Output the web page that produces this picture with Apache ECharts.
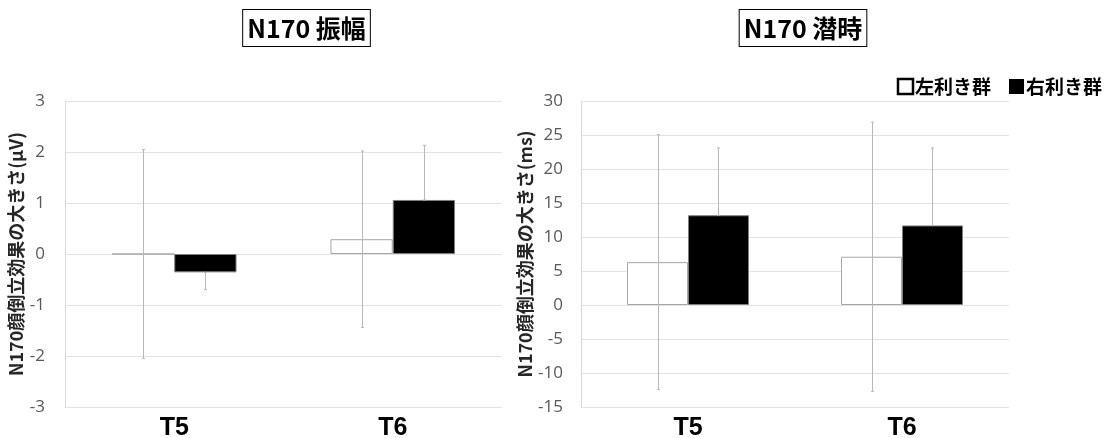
<!DOCTYPE html>
<html>
<head>
<meta charset="utf-8">
<script src="https://cdn.jsdelivr.net/npm/echarts@6/dist/echarts.min.js"></script>
<style>html,body{margin:0;padding:0;background:#fff}#c{width:1115px;height:438px}</style>
</head>
<body>
<div id="c"></div>
<script>
// ---- data ----
var categories = ['T5', 'T6'];
var seriesNames = ['左利き群', '右利き群'];
// N170 amplitude (μV)
var ampLeft = [0.0, 0.29];
var ampLeftErr = [2.05, 1.73];
var ampRight = [-0.36, 1.06];
var ampRightErr = [0.34, 1.07];
// N170 latency (ms)
var latLeft = [6.3, 7.1];
var latLeftErr = [18.75, 19.8];
var latRight = [13.2, 11.7];
var latRightErr = [9.9, 11.4];
var titles = ['N170 振幅', 'N170 潜時'];
var yNames = ['N170顔倒立効果の大きさ(μV)', 'N170顔倒立効果の大きさ(ms)'];

var CAT_GAP = 0.43;
var jp = '"Noto Sans CJK JP", "Noto Sans", sans-serif';

function errSeries(gi, vals0, errs0, vals1, errs1) {
  return {
    type: 'custom', xAxisIndex: gi, yAxisIndex: gi, z: 5, silent: true,
    data: categories.map(function (c, i) { return [i]; }),
    renderItem: function (params, api) {
      var i = api.value(0);
      var band = api.size([1, 0])[0];
      var bw = band * (1 - CAT_GAP) / 2;
      var children = [];
      var style = { stroke: '#b8b8b8', lineWidth: 1 };
      function add(xOff, lo, hi) {
        var p1 = api.coord([i, lo]), p2 = api.coord([i, hi]);
        var x = Math.round(p1[0] + xOff) + 0.5;
        children.push({ type: 'line', shape: { x1: x, y1: p1[1], x2: x, y2: p2[1] }, style: style });
        children.push({ type: 'line', shape: { x1: x - 1.5, y1: p1[1], x2: x + 1.5, y2: p1[1] }, style: style });
        children.push({ type: 'line', shape: { x1: x - 1.5, y1: p2[1], x2: x + 1.5, y2: p2[1] }, style: style });
      }
      // white bars: both directions
      add(-bw / 2, vals0[i] - errs0[i], vals0[i] + errs0[i]);
      // black bars: outward only (inner part hidden by the black fill)
      var v = vals1[i];
      add(bw / 2, v, v >= 0 ? v + errs1[i] : v - errs1[i]);
      return { type: 'group', children: children };
    }
  };
}

function barSeries(gi, name, vals, white) {
  return {
    type: 'bar', name: name, xAxisIndex: gi, yAxisIndex: gi,
    data: vals, barGap: '0%', barCategoryGap: (CAT_GAP * 100) + '%',
    itemStyle: white ? { color: '#ffffff', borderColor: '#a6a6a6', borderWidth: 1 }
                     : { color: '#000000', borderColor: '#7f7f7f', borderWidth: 1 },
    emphasis: { disabled: true }
  };
}

function yAxis(gi, min, max, interval, gap) {
  return {
    type: 'value', gridIndex: gi, min: min, max: max, interval: interval,
    name: yNames[gi], nameLocation: 'middle', nameRotate: 90, nameGap: gap,
    nameTextStyle: { fontFamily: jp, fontWeight: 'bold', fontSize: 18, color: '#262626' },
    axisLine: { show: true, lineStyle: { color: '#d9d9d9' } },
    axisTick: { show: false },
    axisLabel: { color: '#595959', fontSize: 17, fontFamily: 'Open Sans, sans-serif', margin: gi === 0 ? 20 : 18 },
    splitLine: { lineStyle: { color: '#e3e3e3' } }
  };
}

function xAxis(gi) {
  return {
    type: 'category', gridIndex: gi, data: categories,
    axisLine: { show: false }, axisTick: { show: false },
    axisLabel: { color: '#000', fontSize: 25, fontWeight: 'bold', fontFamily: 'Liberation Sans, Arial, sans-serif', margin: 9 }
  };
}

var chart = echarts.init(document.getElementById('c'), null, { renderer: 'canvas' });
chart.setOption({
  animation: false,
  backgroundColor: '#ffffff',
  graphic: [
    { type: 'text', x: 306.5, y: 28, style: { text: titles[0], align: 'center', verticalAlign: 'middle',
      font: 'bold 25px ' + jp, fill: '#000', borderColor: '#000', borderWidth: 1, padding: [6, 4, 5, 4], backgroundColor: '#fff' } },
    { type: 'text', x: 803, y: 28, style: { text: titles[1], align: 'center', verticalAlign: 'middle',
      font: 'bold 25px ' + jp, fill: '#000', borderColor: '#000', borderWidth: 1, padding: [6, 4, 5, 4], backgroundColor: '#fff' } }
  ],
  legend: {
    right: 8, top: 72, itemWidth: 15, itemHeight: 15, itemGap: 18,
    textStyle: { fontFamily: jp, fontWeight: 'bold', fontSize: 19, color: '#000', padding: [0, 0, 0, -3] },
    data: [
      { name: seriesNames[0], icon: 'rect', itemStyle: { color: '#fff', borderColor: '#000', borderWidth: 2.5 } },
      { name: seriesNames[1], icon: 'rect', itemStyle: { color: '#000', borderColor: '#000', borderWidth: 0 } }
    ]
  },
  grid: [
    { left: 65, top: 101, width: 437, height: 306, outerBoundsMode: 'none', containLabel: false },
    { left: 581, top: 101, width: 428, height: 306, outerBoundsMode: 'none', containLabel: false }
  ],
  xAxis: [xAxis(0), xAxis(1)],
  yAxis: [yAxis(0, -3, 3, 1, 40), yAxis(1, -15, 30, 5, 46)],
  series: [
    barSeries(0, seriesNames[0], ampLeft, true),
    barSeries(0, seriesNames[1], ampRight, false),
    errSeries(0, ampLeft, ampLeftErr, ampRight, ampRightErr),
    barSeries(1, seriesNames[0], latLeft, true),
    barSeries(1, seriesNames[1], latRight, false),
    errSeries(1, latLeft, latLeftErr, latRight, latRightErr)
  ]
});
</script>
</body>
</html>
